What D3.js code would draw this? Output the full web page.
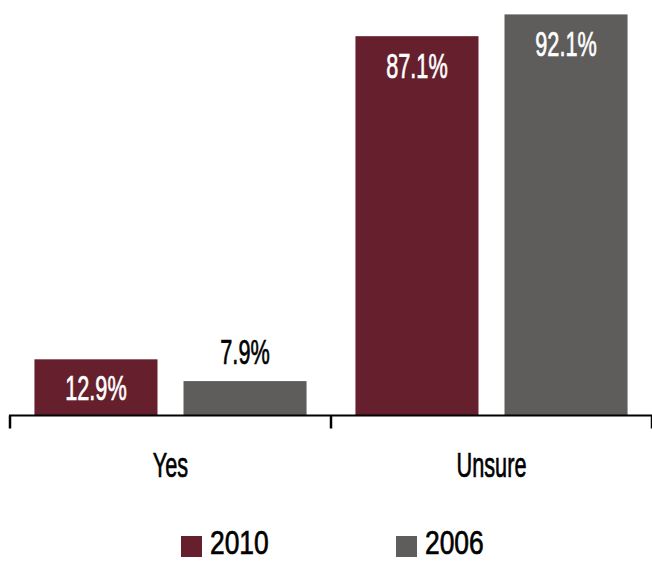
<!DOCTYPE html>
<html>
<head>
<meta charset="utf-8">
<script src="https://cdn.jsdelivr.net/npm/d3@7/dist/d3.min.js"></script>
<style>
  html, body { margin: 0; padding: 0; background: #fff; }
  svg { display: block; }
  text { font-family: "Liberation Sans", Arial, sans-serif; fill: #000; }
</style>
</head>
<body>
<svg id="chart" width="652" height="561"></svg>
<script>
// Survey answers by year
const categories = ["Yes", "Unsure"];
const years = ["2010", "2006"];
const values2010 = [12.9, 87.1];
const values2006 = [7.9, 92.1];
const yearColors = ["#661f2c", "#5e5d5b"];

const rows = categories.map((c, i) => ({
  category: c,
  values: [
    { year: years[0], value: values2010[i] },
    { year: years[1], value: values2006[i] }
  ]
}));

const svg = d3.select("#chart");
const baseline = 415.5;
const squeeze = 0.62; // horizontal compression for the condensed lettering

const x0 = d3.scaleBand().domain(categories).range([10, 652]).paddingInner(0).paddingOuter(0);
const x1 = d3.scaleBand().domain(years).range([0, x0.bandwidth()])
  .paddingInner(0.1745).paddingOuter(0.164);
const y = d3.scaleLinear().domain([0, 100]).range([baseline, -20]);
const color = d3.scaleOrdinal().domain(years).range(yearColors);

function label(g, x, yPos, txt, size, fill, anchor, sx) {
  const c = fill || "#000";
  return g.append("text")
    .attr("transform", `translate(${x},${yPos}) scale(${sx || squeeze},1)`)
    .attr("text-anchor", anchor || "middle")
    .style("font-size", size + "px")
    .style("fill", c)
    .style("stroke", c)
    .style("stroke-width", 0.7)
    .text(txt);
}

// Bars
const groups = svg.selectAll("g.group").data(rows).join("g")
  .attr("class", "group")
  .attr("transform", d => `translate(${x0(d.category)},0)`);

groups.selectAll("rect").data(d => d.values).join("rect")
  .attr("x", d => x1(d.year))
  .attr("y", d => y(d.value))
  .attr("width", x1.bandwidth())
  .attr("height", d => baseline - y(d.value))
  .attr("fill", d => color(d.year));

// Value labels: near the top of tall bars, centred in mid bars, above short bars
groups.each(function(d) {
  const g = d3.select(this);
  d.values.forEach(v => {
    const cx = x1(v.year) + x1.bandwidth() / 2;
    const top = y(v.value);
    const h = baseline - top;
    const txt = v.value.toFixed(1) + "%";
    if (h >= 80) label(g, cx, top + 42, txt, 35, "#fff");
    else if (h >= 45) label(g, cx, top + h / 2 + 12.5, txt, 35, "#fff");
    else label(g, cx, top - 17, txt, 35, "#000");
  });
});

// Category axis
const axis = d3.axisBottom(x0).tickSize(0).tickFormat("");
const axisG = svg.append("g").attr("transform", `translate(0,${baseline})`).call(axis);
axisG.select(".domain").remove();
axisG.append("line")
  .attr("x1", 9).attr("x2", 652).attr("y1", 0).attr("y2", 0)
  .attr("stroke", "#000").attr("stroke-width", 2);
const boundaries = categories.map(c => x0(c)).concat([x0.range()[1]]);
axisG.selectAll("line.sep").data(boundaries).join("line")
  .attr("class", "sep")
  .attr("x1", d => d).attr("x2", d => d)
  .attr("y1", 0).attr("y2", 13)
  .attr("stroke", "#000").attr("stroke-width", 2.5);

categories.forEach(c => {
  label(svg, x0(c) + x0.bandwidth() / 2, 477, c, 35);
});

// Legend
const legendX = [181, 396];
years.forEach((yr, i) => {
  svg.append("rect")
    .attr("x", legendX[i]).attr("y", 536)
    .attr("width", 21).attr("height", 21)
    .attr("fill", color(yr));
  label(svg, legendX[i] + 29, 554, yr, 33, "#000", "start", 0.8);
});
</script>
</body>
</html>
